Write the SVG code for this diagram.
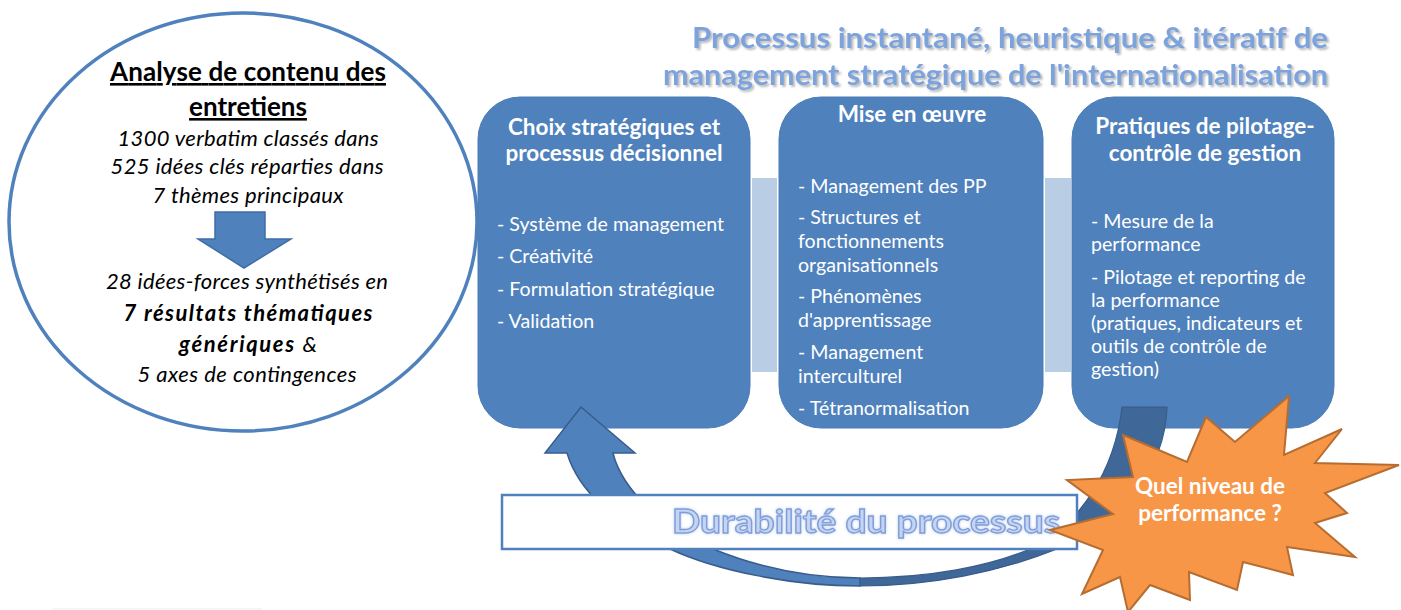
<svg xmlns="http://www.w3.org/2000/svg" width="1401" height="610" viewBox="0 0 1401 610">
<defs>
<filter id="sh" x="-5%" y="-20%" width="110%" height="150%">
<feDropShadow dx="2" dy="2" stdDeviation="1.3" flood-color="#7f7f7f" flood-opacity="0.55"/>
</filter>
<filter id="glow" x="-5%" y="-20%" width="110%" height="150%">
<feGaussianBlur in="SourceAlpha" stdDeviation="1.5" result="b"/>
<feFlood flood-color="#b9cdf0" result="c"/>
<feComposite in="c" in2="b" operator="in" result="g"/>
<feMerge><feMergeNode in="g"/><feMergeNode in="SourceGraphic"/></feMerge>
</filter>
</defs>
<style>
.box{fill:#4f81bd;stroke:#4a7cb7;stroke-width:1}
.link{fill:#b9cde5}
.bt{font-family:Lato,"Liberation Sans",sans-serif;font-weight:bold;fill:#fff;font-size:22.5px;text-anchor:middle}
.it{font-family:Lato,"Liberation Sans",sans-serif;fill:#fff;font-size:19.6px}
.el{font-family:Lato,"Liberation Sans",sans-serif;font-style:italic;fill:#000;font-size:22px;text-anchor:middle}
.elb{font-family:Lato,"Liberation Sans",sans-serif;font-weight:bold;fill:#000;font-size:26px;text-anchor:middle;text-decoration:underline}
.ttl{font-family:Lato,"Liberation Sans",sans-serif;font-weight:bold;fill:#7da3dd;font-size:29px;text-anchor:end}
</style>
<rect width="1401" height="610" fill="#fff"/>

<g id="title" filter="url(#sh)">
<text class="ttl" x="1328" y="48" textLength="636" lengthAdjust="spacingAndGlyphs">Processus  instantané, heuristique &amp; itératif de</text>
<text class="ttl" x="1328" y="85" textLength="665" lengthAdjust="spacingAndGlyphs">management stratégique de l'internationalisation</text>
</g>

<g id="analyse">
<ellipse cx="243" cy="222" rx="234" ry="209" fill="#fff" stroke="#4f81bd" stroke-width="3.5"/>
<text class="elb" x="248" y="81" textLength="276" lengthAdjust="spacing">Analyse de contenu des</text>
<text class="elb" x="248" y="116">entretiens</text>
<text class="el" x="248" y="146" textLength="261" lengthAdjust="spacing">1300 verbatim classés dans</text>
<text class="el" x="247" y="174" textLength="273" lengthAdjust="spacing">525 idées clés réparties dans</text>
<text class="el" x="248" y="203" textLength="191" lengthAdjust="spacing">7 thèmes principaux</text>
<path d="M215,212 H265 V239 H291 L244,268 L198,239 H215 Z" fill="#4f81bd" stroke="#3f6ea6" stroke-width="1.5"/>
<text class="el" x="247" y="289" textLength="282" lengthAdjust="spacing">28 idées-forces synthétisés en</text>
<text class="el" x="248" y="321" font-weight="bold" font-size="24px" textLength="249" lengthAdjust="spacing">7 résultats  thématiques</text>
<text class="el" x="248" y="352" font-size="24px" textLength="138" lengthAdjust="spacing"><tspan font-weight="bold">génériques</tspan>  &amp;</text>
<text class="el" x="247" y="382" textLength="219" lengthAdjust="spacing">5 axes de contingences</text>
</g>

<g id="connectors">
<rect class="link" x="752" y="178" width="25" height="194"/>
<rect class="link" x="1045" y="178" width="26" height="194"/>
</g>

<g id="choix">
<rect class="box" x="478" y="97" width="272" height="331" rx="42"/>
<text class="bt" x="614" y="135">Choix stratégiques et</text>
<text class="bt" x="614" y="161">processus décisionnel</text>
<text class="it" x="497" y="231">- Système de management</text>
<text class="it" x="497" y="263">- Créativité</text>
<text class="it" x="497" y="296">- Formulation stratégique</text>
<text class="it" x="497" y="328">- Validation</text>
</g>

<g id="mise">
<rect class="box" x="779" y="97" width="264" height="331" rx="42"/>
<text class="bt" x="912" y="122">Mise en œuvre</text>
<text class="it" x="798" y="193">- Management des PP</text>
<text class="it" x="798" y="224">- Structures et</text>
<text class="it" x="798" y="248">fonctionnements</text>
<text class="it" x="798" y="272">organisationnels</text>
<text class="it" x="798" y="303">- Phénomènes</text>
<text class="it" x="798" y="327">d'apprentissage</text>
<text class="it" x="798" y="359">- Management</text>
<text class="it" x="798" y="383">interculturel</text>
<text class="it" x="798" y="415">- Tétranormalisation</text>
</g>

<g id="pilotage">
<rect class="box" x="1072" y="97" width="262" height="331" rx="42"/>
<text class="bt" x="1205" y="134">Pratiques de pilotage-</text>
<text class="bt" x="1205" y="161">contrôle de gestion</text>
<text class="it" x="1091" y="228">- Mesure de la</text>
<text class="it" x="1091" y="251">performance</text>
<text class="it" x="1091" y="284">- Pilotage et reporting de</text>
<text class="it" x="1091" y="307">la performance</text>
<text class="it" x="1091" y="330">(pratiques, indicateurs et</text>
<text class="it" x="1091" y="353">outils de contrôle de</text>
<text class="it" x="1091" y="376">gestion)</text>
</g>

<g id="cycle">
<path d="M860,578 C930,578 990,566 1030,549 C1080,525 1115,470 1122,407 L1167,407 C1165,470 1120,525 1057,549 C1000,572 930,586 860,586 Z" fill="#3f6797" stroke="#385d8a" stroke-width="1.2"/>
<path d="M581,407 L635,453 L613,453 C622,490 665,530 713,549 C760,568 810,578 860,578 L860,586 C790,586 715,570 670,549 C615,525 578,490 567,453 L545,453 Z" fill="#4f81bd" stroke="#385d8a" stroke-width="1.5" stroke-linejoin="miter"/>
</g>

<g id="durabilite">
<rect x="502" y="495" width="575" height="54" fill="#fff" stroke="#4f81bd" stroke-width="2.5"/>
<text x="866" y="533" font-family="Lato,'Liberation Sans',sans-serif" font-weight="bold" font-size="33px" text-anchor="middle" fill="#c5d4f2" stroke="#7f9ed8" stroke-width="1.3" filter="url(#glow)" textLength="388" lengthAdjust="spacingAndGlyphs">Durabilité du processus</text>
</g>

<g id="performance">
<polygon points="1050,530 1113,514 1067,480 1133,477 1123,435 1187,462 1206,417 1235,442 1289,396 1284,455 1342,429 1315,463 1399,465 1325,493 1347,513 1315,523 1355,557 1287,547 1293,575 1243,562 1237,590 1189,572 1190,600 1150,585 1128,612 1120,577 1082,594 1103,550" fill="#f79646" stroke="#b66d31" stroke-width="2" stroke-linejoin="miter"/>
<text class="bt" x="1210" y="494" font-size="20.5px">Quel niveau de</text>
<text class="bt" x="1210" y="521" font-size="20.5px">performance ?</text>
</g>

<line x1="52" y1="609" x2="262" y2="609" stroke="#ececec" stroke-width="1"/>
</svg>
